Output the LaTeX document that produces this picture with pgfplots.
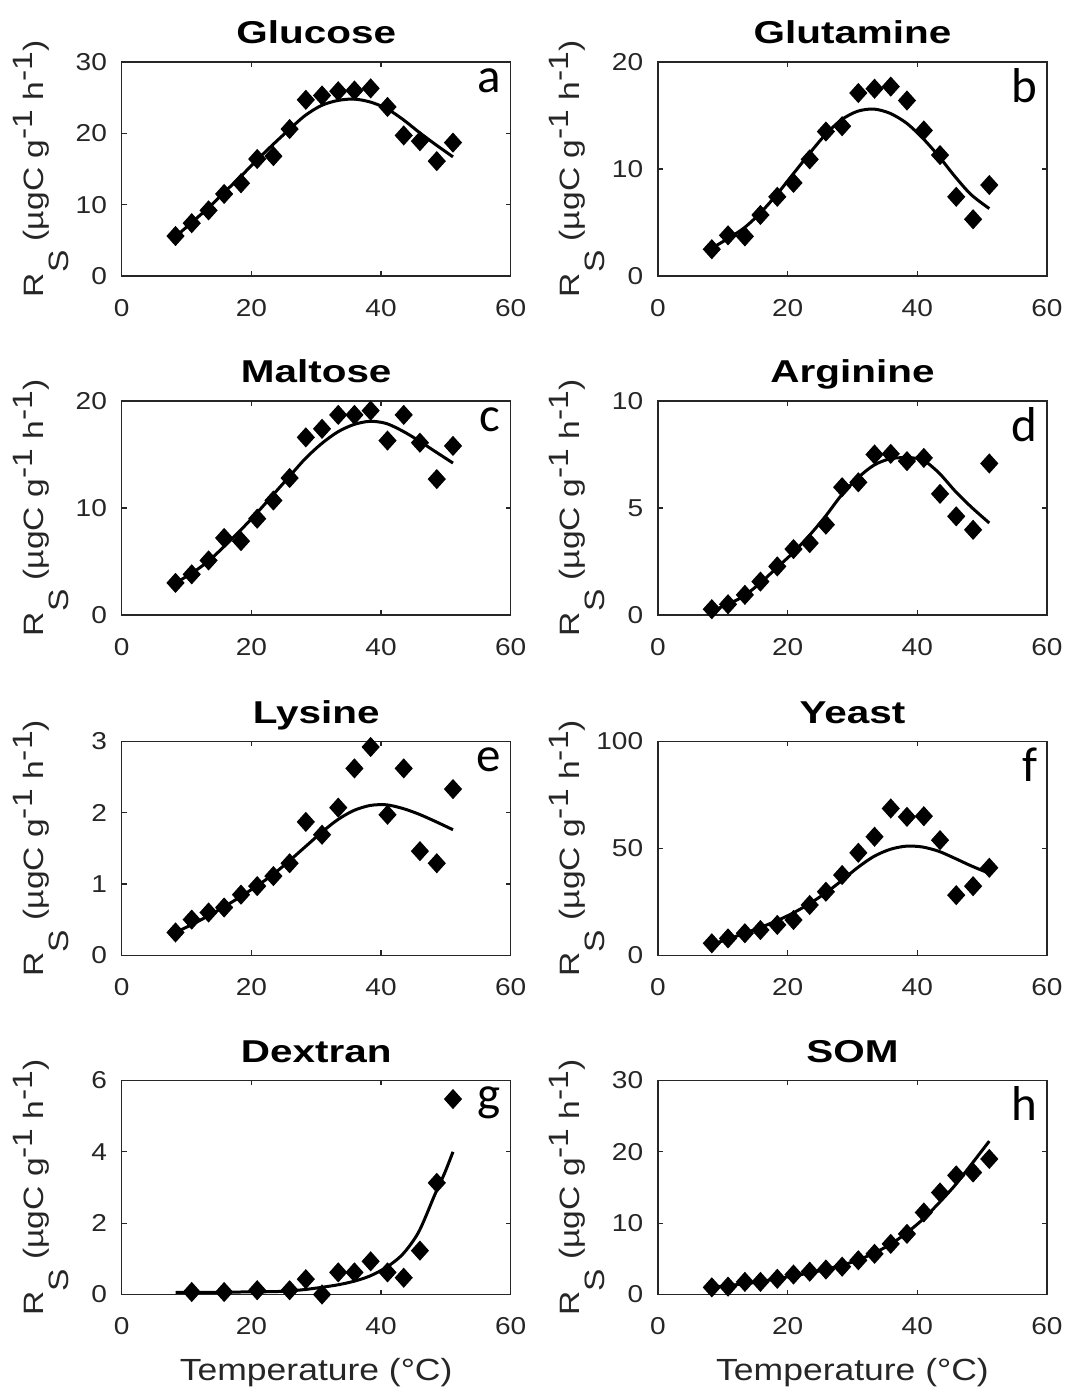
\documentclass[border=0pt]{standalone}
\usepackage{pgfplots}
\pgfplotsset{compat=1.18}
\usepackage{pgfplotstable}
\usepackage{fontspec}
\setmainfont{Liberation Sans}
\newfontfamily\tickfont[FakeStretch=1.15]{Liberation Sans}
\newfontfamily\titlefont[FakeStretch=1.28]{Liberation Sans}
\newfontfamily\ylabfont[FakeStretch=1.2]{Liberation Sans}
\newfontfamily\xlabfont[FakeStretch=1.16]{Liberation Sans}
\newfontfamily\letterfont{Carlito}
\definecolor{axgray}{HTML}{262626}

% ---------- measured respiration rates (T in deg C, Rs) ----------
\pgfplotstableread{
T R
8.3 5.6
10.8 7.4
13.4 9.2
15.8 11.5
18.4 13.0
20.9 16.4
23.4 16.8
25.9 20.6
28.4 24.7
30.9 25.3
33.4 25.9
35.9 26.0
38.4 26.3
41.0 23.7
43.5 19.7
46.0 18.9
48.6 16.1
51.1 18.7
}\glucoseobs
\pgfplotstableread{
T R
8.3 5.5
10.8 7.5
13.3 9.5
15.8 11.7
18.3 13.9
20.8 16.2
23.3 18.4
25.8 20.5
28.3 22.5
30.8 23.9
33.3 24.6
35.8 24.8
38.3 24.4
40.8 23.5
43.3 22.0
45.8 20.2
48.3 18.5
51.1 16.7
}\glucosefit

\pgfplotstableread{
T R
8.3 2.5
10.8 3.8
13.4 3.7
15.8 5.7
18.4 7.4
20.9 8.7
23.4 10.9
25.9 13.5
28.4 14.0
30.9 17.1
33.4 17.5
35.9 17.7
38.4 16.4
41.0 13.6
43.5 11.3
46.0 7.4
48.6 5.3
51.1 8.5
}\glutamineobs
\pgfplotstableread{
T R
8.3 2.6
10.8 3.5
13.3 4.5
15.8 5.9
18.3 7.6
20.8 9.5
23.3 11.4
25.8 13.2
28.3 14.6
30.8 15.4
33.3 15.6
35.8 15.2
38.3 14.3
40.8 12.9
43.3 11.2
45.8 9.3
48.3 7.6
51.1 6.3
}\glutaminefit

\pgfplotstableread{
T R
8.3 3.0
10.8 3.8
13.4 5.1
15.8 7.2
18.4 6.9
20.9 9.0
23.4 10.7
25.9 12.8
28.4 16.6
30.9 17.4
33.4 18.7
35.9 18.7
38.4 19.1
41.0 16.3
43.5 18.7
46.0 16.1
48.6 12.7
51.1 15.8
}\maltoseobs
\pgfplotstableread{
T R
8.3 3.0
10.8 3.9
13.3 5.0
15.8 6.4
18.3 7.9
20.8 9.5
23.3 11.2
25.8 12.9
28.3 14.6
30.8 16.0
33.3 17.1
35.8 17.8
38.3 18.1
40.8 17.9
43.3 17.2
45.8 16.3
48.3 15.3
51.1 14.2
}\maltosefit

\pgfplotstableread{
T R
8.3 0.27
10.8 0.50
13.4 0.94
15.8 1.56
18.4 2.27
20.9 3.08
23.4 3.36
25.9 4.22
28.4 5.97
30.9 6.20
33.4 7.50
35.9 7.53
38.4 7.19
41.0 7.34
43.5 5.66
46.0 4.61
48.6 3.98
51.1 7.08
}\arginineobs
\pgfplotstableread{
T R
8.3 0.20
10.8 0.50
13.3 0.90
15.8 1.50
18.3 2.20
20.8 2.90
23.3 3.70
25.8 4.60
28.3 5.60
30.8 6.40
33.3 7.00
35.8 7.30
38.3 7.35
40.8 7.25
43.3 6.65
45.8 5.80
48.3 5.05
51.1 4.30
}\argininefit

\pgfplotstableread{
T R
8.3 0.32
10.8 0.50
13.4 0.60
15.8 0.67
18.4 0.85
20.9 0.97
23.4 1.11
25.9 1.29
28.4 1.87
30.9 1.69
33.4 2.07
35.9 2.62
38.4 2.92
41.0 1.97
43.5 2.62
46.0 1.46
48.6 1.29
51.1 2.33
}\lysineobs
\pgfplotstableread{
T R
8.3 0.32
10.8 0.43
13.3 0.55
15.8 0.68
18.3 0.82
20.8 0.97
23.3 1.13
25.8 1.32
28.3 1.52
30.8 1.72
33.3 1.90
35.8 2.03
38.3 2.10
40.8 2.11
43.3 2.06
45.8 1.98
48.3 1.88
51.1 1.76
}\lysinefit

\pgfplotstableread{
T R
8.3 5.6
10.8 7.9
13.4 10.3
15.8 11.8
18.4 14.2
20.9 16.5
23.4 23.5
25.9 29.7
28.4 37.5
30.9 47.9
33.4 55.4
35.9 68.6
38.4 64.7
41.0 65.0
43.5 53.8
46.0 28.1
48.6 32.3
51.1 40.9
}\yeastobs
\pgfplotstableread{
T R
8.3 5.0
10.8 7.6
13.3 10.2
15.8 13.0
18.3 16.1
20.8 19.7
23.3 24.0
25.8 29.0
28.3 34.8
30.8 41.0
33.3 46.2
35.8 49.5
38.3 51.0
40.8 50.6
43.3 48.6
45.8 45.3
48.3 41.8
51.1 38.3
}\yeastfit

\pgfplotstableread{
T R
10.8 0.07
15.8 0.07
20.9 0.12
25.9 0.12
28.4 0.43
30.9 0.00
33.4 0.62
35.9 0.62
38.4 0.93
41.0 0.62
43.5 0.47
46.0 1.23
48.6 3.13
51.1 5.48
}\dextranobs
\pgfplotstableread{
T R
8.3 0.06
13.3 0.06
18.3 0.07
23.3 0.08
25.8 0.10
28.3 0.14
30.8 0.20
33.3 0.27
35.8 0.37
38.3 0.52
40.8 0.76
43.3 1.12
45.8 1.75
48.3 2.80
49.8 3.40
51.1 4.00
}\dextranfit

\pgfplotstableread{
T R
8.3 1.00
10.8 1.10
13.4 1.77
15.8 1.77
18.4 2.20
20.9 2.80
23.4 3.20
25.9 3.50
28.4 3.90
30.9 4.80
33.4 5.70
35.9 7.10
38.4 8.50
41.0 11.50
43.5 14.30
46.0 16.70
48.6 17.10
51.1 19.00
}\somobs
\pgfplotstableread{
T R
8.3 1.00
10.8 1.25
13.3 1.50
15.8 1.80
18.3 2.20
20.8 2.60
23.3 3.00
25.8 3.50
28.3 4.10
30.8 4.80
33.3 5.80
35.8 7.00
38.3 8.60
40.8 10.50
43.3 12.80
45.8 15.30
48.3 18.20
51.1 21.50
}\somfit

\pgfplotsset{
  panel/.style={
    scale only axis, width=194.5pt, height=107pt,
    anchor=south west,
    xmin=0, xmax=60, ymin=0,
    xtick={0,20,40,60},
    tick align=inside, major tick length=2.4pt,
    xtick pos=both, ytick pos=both,
    xticklabel pos=left, yticklabel pos=left,
    axis line style={axgray, line width=0.65pt},
    every tick/.style={axgray, line width=0.65pt},
    /pgf/number format/assume math mode=true,
    tick label style={font=\tickfont\fontsize{12.2pt}{14pt}\selectfont, text=axgray, inner sep=0pt},
    xticklabel style={anchor=north, yshift=-11.5pt},
    yticklabel style={anchor=east, xshift=-7.2pt},
    clip=false,
  },
  obs/.style={only marks, mark=diamond*, mark size=4.6pt,
    mark options={black, fill=black, line width=0.6pt, xscale=1.2}},
  fit/.style={black, line width=1.5pt, smooth, no markers},
}

\newcommand{\decor}[3]{%
  \node[anchor=base, font=\titlefont\bfseries\fontsize{15.8pt}{18pt}\selectfont]
    at ([yshift=9.1pt]axis description cs:0.5,1) {#1};
  \node[anchor=north east, inner sep=0pt, font=\letterfont\fontsize{24.5pt}{28pt}\selectfont]
    at ([xshift=-4.8pt,yshift=-3pt]axis description cs:1,1) {#2};
  \node[rotate=90, anchor=base, text=axgray, font=\ylabfont\fontsize{14pt}{16pt}\selectfont]
    at ([xshift=-39.2pt]axis description cs:0,0.5)
    {R\raisebox{-0.9em}{S} (µgC g\raisebox{0.4em}{-1} h\raisebox{0.4em}{-1})};
  #3%
}
\newcommand{\xlab}{%
  \node[anchor=base, text=axgray, font=\xlabfont\fontsize{15.3pt}{18pt}\selectfont]
    at ([yshift=-42.75pt]axis description cs:0.5,0) {Temperature (°C)};
}

\begin{document}
\begin{tikzpicture}
\useasboundingbox (0,0) rectangle (535pt,696pt);

% row 1
\begin{axis}[panel, at={(60.85pt,558pt)}, ymax=30, ytick={0,10,20,30}]
  \addplot[obs] table {\glucoseobs};
  \addplot[fit] table {\glucosefit};
  \decor{Glucose}{a}{}
\end{axis}
\begin{axis}[panel, at={(329pt,558pt)}, ymax=20, ytick={0,10,20}]
  \addplot[obs] table {\glutamineobs};
  \addplot[fit] table {\glutaminefit};
  \decor{Glutamine}{b}{}
\end{axis}

% row 2
\begin{axis}[panel, at={(60.85pt,388.5pt)}, ymax=20, ytick={0,10,20}]
  \addplot[obs] table {\maltoseobs};
  \addplot[fit] table {\maltosefit};
  \decor{Maltose}{c}{}
\end{axis}
\begin{axis}[panel, at={(329pt,388.5pt)}, ymax=10, ytick={0,5,10}]
  \addplot[obs] table {\arginineobs};
  \addplot[fit] table {\argininefit};
  \decor{Arginine}{d}{}
\end{axis}

% row 3
\begin{axis}[panel, at={(60.85pt,218.35pt)}, ymax=3, ytick={0,1,2,3}]
  \addplot[obs] table {\lysineobs};
  \addplot[fit] table {\lysinefit};
  \decor{Lysine}{e}{}
\end{axis}
\begin{axis}[panel, at={(329pt,218.35pt)}, ymax=100, ytick={0,50,100}]
  \addplot[obs] table {\yeastobs};
  \addplot[fit] table {\yeastfit};
  \decor{Yeast}{f}{}
\end{axis}

% row 4
\begin{axis}[panel, at={(60.85pt,48.75pt)}, ymax=6, ytick={0,2,4,6}]
  \addplot[obs] table {\dextranobs};
  \addplot[fit] table {\dextranfit};
  \decor{Dextran}{g}{\xlab}
\end{axis}
\begin{axis}[panel, at={(329pt,48.75pt)}, ymax=30, ytick={0,10,20,30}]
  \addplot[obs] table {\somobs};
  \addplot[fit] table {\somfit};
  \decor{SOM}{h}{\xlab}
\end{axis}
\end{tikzpicture}
\end{document}
